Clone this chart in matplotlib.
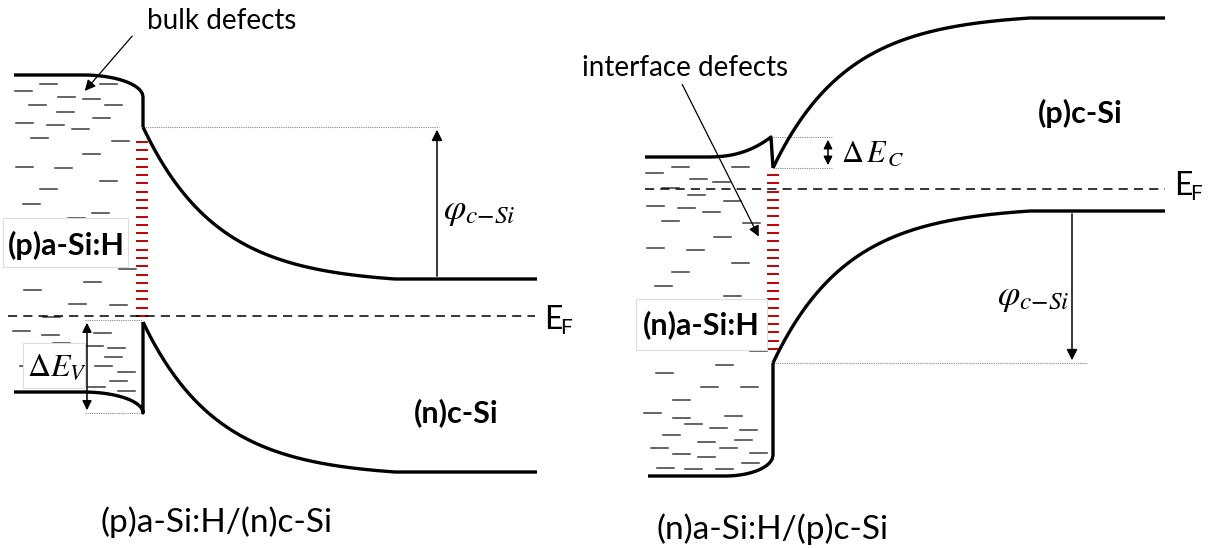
import numpy as np
import matplotlib.pyplot as plt

plt.rcParams['font.family'] = ['Lato', 'DejaVu Sans']
plt.rcParams['mathtext.fontset'] = 'stix'

# band levels (pixel coords, y grows downward)
# left: (p)a-Si:H / (n)c-Si
L_x = [14, 83, 143, 395, 537]          # a-Si start, bend start, interface, c-Si flat, end
L_Ec_asi = [75, 97]                    # flat, value at interface
L_Ec_csi = [127, 279]                  # interface, bulk
L_Ev_asi = [392, 413]
L_Ev_csi = [322, 472]
L_EF = 316

# right: (n)a-Si:H / (p)c-Si
R_x = [645, 705, 773, 1030, 1165]
R_Ec_asi = [157, 137]
R_Ec_csi = [168, 18]
R_Ev_asi = [476, 455]
R_Ev_csi = [363, 211]
R_EF = 189

# bulk defect dashes (left x, y)
L_def_x = [40, 100, 15, 58, 83, 29, 105, 57, 93, 16, 47, 72, 31, 112, 83, 16, 55, 100, 40, 23,
           92, 68, 119, 84, 24, 69, 110, 43, 13, 42, 53, 94, 86, 108, 105, 95, 118, 110, 88, 118, 20]
L_def_y = [84, 84, 91, 97, 99, 105, 105, 112, 118, 123, 125, 129, 138, 141, 154, 167, 168, 181, 189, 204,
           213, 218, 269, 282, 290, 304, 305, 317, 331, 335, 343, 333, 346, 348, 357, 366, 372, 381, 387, 391, 366]
R_def_x = [672, 732, 646, 690, 713, 662, 688, 724, 647, 678, 703, 662, 743, 714, 647, 687, 732, 672, 655,
           724, 750, 716, 656, 701, 741, 673, 644, 725, 673, 685, 710, 740, 663, 698, 735, 651, 720, 673,
           698, 750, 657, 685, 716, 742]
R_def_y = [167, 167, 173, 179, 182, 188, 195, 201, 206, 208, 212, 221, 223, 237, 248, 250, 263, 272, 286,
           296, 351, 365, 373, 387, 387, 400, 413, 416, 418, 424, 428, 430, 435, 442, 440, 448, 448, 454,
           457, 453, 468, 469, 469, 463]
DEF_LEN = 17

# interface defect ticks: x range, first y, last y, count
L_ticks = [137, 147, 142, 316, 22]
R_ticks = [768, 778, 175, 349, 22]

K = 0.0135  # band bending decay (1/px)


def bend_csi(x0, x1, y_int, y_bulk):
    x = np.linspace(x0, x1, 200)
    e = np.exp(-K * (x - x0))
    e_end = np.exp(-K * (x1 - x0))
    y = y_bulk + (y_int - y_bulk) * (e - e_end) / (1 - e_end)
    return x, y


def corner_asi(x0, x1, y_flat, y_end, power=None):
    t = np.linspace(0, 1, 100)
    if power is None:
        s = 1 - np.sqrt(1 - t ** 2)
    else:
        s = t ** power
    return x0 + (x1 - x0) * t, y_flat + (y_end - y_flat) * s


fig = plt.figure(figsize=(12.14, 5.48), dpi=100)
ax = fig.add_axes([0, 0, 1, 1])
ax.set_xlim(0, 1214)
ax.set_ylim(548, 0)
ax.axis('off')

BLW = 2.4
band = dict(color='black', lw=BLW, solid_capstyle='butt', zorder=5)
dotted = dict(color='#888888', lw=0.8, ls=(0, (1, 1)), zorder=3)
efstyle = dict(color='black', lw=1.1, ls=(0, (6, 4)), zorder=4)
PHI = r'$\varphi_{c{-}Si}$'

# defects
for xs, ys in [(L_def_x, L_def_y), (R_def_x, R_def_y)]:
    for x, y in zip(xs, ys):
        ax.plot([x, x + DEF_LEN], [y, y], color='#3a3a3a', lw=1.1, zorder=2)

for x0, x1, y0, y1, n in [L_ticks, R_ticks]:
    for y in np.linspace(y0, y1, n):
        ax.plot([x0, x1], [y, y], color='#c00000', lw=1.4, zorder=3)

# ---- left diagram
xa, xb, xi, xc, xe = L_x
cx, cy = corner_asi(xb, xi, L_Ec_asi[0], L_Ec_asi[1])
ax.plot([xa, xb] + list(cx) + [xi], [L_Ec_asi[0]] * 2 + list(cy) + [L_Ec_csi[0]], **band)
bx, by = bend_csi(xi, xc, L_Ec_csi[0], L_Ec_csi[1])
ax.plot(list(bx) + [xe], list(by) + [L_Ec_csi[1]], **band)
vx, vy = corner_asi(xb, xi, L_Ev_asi[0], L_Ev_asi[1])
ax.plot([xa, xb] + list(vx) + [xi], [L_Ev_asi[0]] * 2 + list(vy) + [L_Ev_csi[0]], **band)
bx, by = bend_csi(xi, xc, L_Ev_csi[0], L_Ev_csi[1])
ax.plot(list(bx) + [xe], list(by) + [L_Ev_csi[1]], **band)
ax.plot([8, 535], [L_EF, L_EF], **efstyle)

phi_x = 437
ax.plot([xi, phi_x + 2], [L_Ec_csi[0]] * 2, **dotted)
ax.annotate('', xy=(phi_x, L_Ec_csi[0]), xytext=(phi_x, L_Ec_csi[1]),
            arrowprops=dict(arrowstyle='-|>', color='black', lw=1.1, mutation_scale=16), zorder=6)
ax.text(phi_x + 6, 212, PHI, fontsize=26, va='center', ha='left')

dv_x = 87
ax.plot([85, xi], [320, 320], **dotted)
ax.plot([85, xi], [L_Ev_asi[1], L_Ev_asi[1]], **dotted)
ax.annotate('', xy=(dv_x, 320), xytext=(dv_x, L_Ev_asi[1]),
            arrowprops=dict(arrowstyle='<|-|>', color='black', lw=1.1, mutation_scale=14), zorder=6)
ax.add_patch(plt.Rectangle((23, 343), 62, 45, fc='white', ec='#dddddd', lw=0.8, zorder=4))
ax.text(27, 367, r'$\Delta E_V$', fontsize=23, va='center', ha='left', zorder=5)

ax.add_patch(plt.Rectangle((3, 218), 125, 49, fc='white', ec='#dddddd', lw=0.8, zorder=4))
ax.text(66, 245, '(p)a-Si:H', fontsize=22, fontweight='bold', ha='center', va='center', zorder=5)
ax.text(456, 413, '(n)c-Si', fontsize=22, fontweight='bold', ha='center', va='center')
ax.text(544, 329, 'E', fontsize=23, ha='left', va='baseline')
ax.text(560, 334, 'F', fontsize=15, ha='left', va='baseline')

ax.text(147, 21, 'bulk defects', fontsize=20, ha='left', va='center')
ax.annotate('', xy=(83, 93), xytext=(134, 34),
            arrowprops=dict(arrowstyle='-|>', color='black', lw=0.9, mutation_scale=16))
ax.text(217, 522, '(p)a-Si:H/(n)c-Si', fontsize=24, ha='center', va='center')

# ---- right diagram
xa, xb, xi, xc, xe = R_x
cx, cy = corner_asi(xb, xi - 2, R_Ec_asi[0], R_Ec_asi[1], power=2.5)
ax.plot([xa, xb] + list(cx) + [xi], [R_Ec_asi[0]] * 2 + list(cy) + [R_Ec_csi[0]], **band)
bx, by = bend_csi(xi, xc, R_Ec_csi[0], R_Ec_csi[1])
ax.plot(list(bx) + [xe], list(by) + [R_Ec_csi[1]], **band)
vx, vy = corner_asi(xb + 20, xi, R_Ev_asi[0], R_Ev_asi[1])
ax.plot([xa + 3, xb + 20] + list(vx) + [xi], [R_Ev_asi[0]] * 2 + list(vy) + [R_Ev_csi[0]], **band)
bx, by = bend_csi(xi, xc, R_Ev_csi[0], R_Ev_csi[1])
ax.plot(list(bx) + [xe], list(by) + [R_Ev_csi[1]], **band)
ax.plot([645, 1165], [R_EF, R_EF], **efstyle)

dc_x = 828
ax.plot([xi, 833], [R_Ec_asi[1]] * 2, **dotted)
ax.plot([xi, 833], [R_Ec_csi[0]] * 2, **dotted)
ax.annotate('', xy=(dc_x, R_Ec_asi[1]), xytext=(dc_x, R_Ec_csi[0]),
            arrowprops=dict(arrowstyle='<|-|>', color='black', lw=1.1, mutation_scale=13), zorder=6)
ax.text(841, 154, r'$\Delta\,E_{\,C}$', fontsize=22, va='center', ha='left')

phi_x = 1072
ax.plot([xi, 1087], [R_Ev_csi[0]] * 2, **dotted)
ax.annotate('', xy=(phi_x, R_Ev_csi[0]), xytext=(phi_x, R_Ev_csi[1]),
            arrowprops=dict(arrowstyle='-|>', color='black', lw=1.1, mutation_scale=16), zorder=6)
ax.text(997, 298, PHI, fontsize=26, va='center', ha='left')

ax.add_patch(plt.Rectangle((636, 299), 131, 51, fc='white', ec='#dddddd', lw=0.8, zorder=4))
ax.text(701, 325, '(n)a-Si:H', fontsize=22, fontweight='bold', ha='center', va='center', zorder=5)
ax.text(1080, 113, '(p)c-Si', fontsize=22, fontweight='bold', ha='center', va='center')
ax.text(1174, 195, 'E', fontsize=23, ha='left', va='baseline')
ax.text(1190, 200, 'F', fontsize=15, ha='left', va='baseline')

ax.text(685, 68, 'interface defects', fontsize=20, ha='center', va='center')
ax.annotate('', xy=(760, 239), xytext=(681, 82),
            arrowprops=dict(arrowstyle='-|>', color='black', lw=0.9, mutation_scale=16))
ax.text(772, 529, '(n)a-Si:H/(p)c-Si', fontsize=24, ha='center', va='center')

fig.savefig('out.png', dpi=100)
